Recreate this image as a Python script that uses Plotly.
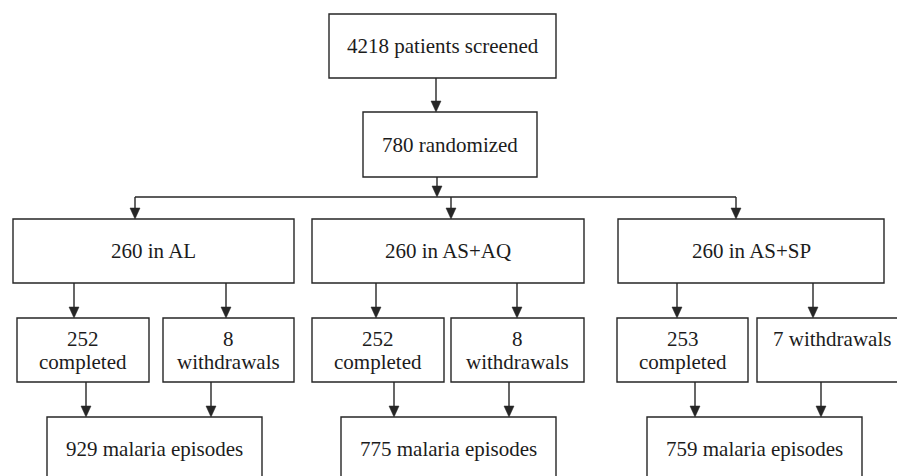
import plotly.graph_objects as go

# ---- data ----
screened = 4218
randomized = 780
arms = ["AL", "AS+AQ", "AS+SP"]
allocated = [260, 260, 260]
completed = [252, 252, 253]
withdrawals = [8, 8, 7]
episodes = [929, 775, 759]

# ---- layout geometry (pixels, y downward) ----
W, H = 897, 476
top_box = (329, 14, 556, 78)
rand_box = (363, 112, 537, 177)
arm_boxes = [(13, 219, 294, 283), (312, 219, 584, 283), (618, 219, 884, 283)]
comp_boxes = [(17, 318, 149, 382), (312, 318, 444, 382), (617, 318, 748, 382)]
wd_boxes = [(163, 318, 294, 382), (451, 318, 584, 382), (757, 318, 905, 382)]
ep_boxes = [(47, 417, 262, 482), (341, 417, 556, 482), (647, 417, 862, 482)]
bus_y = 197
bus_x = [135, 451, 736]
arm_to_comp_x = [74, 376, 677]
arm_to_wd_x = [226, 517, 813]
comp_to_ep_x = [86, 394, 695]
wd_to_ep_x = [211, 509, 821]

LINE = "#262626"
TEXT = "#1c1c1c"
FONT = "Liberation Serif, Times New Roman, serif"
FS = 21

shapes = []
annotations = []


def box(b):
    shapes.append(dict(type="rect", xref="x", yref="y", x0=b[0], y0=b[1], x1=b[2], y1=b[3],
                       line=dict(color=LINE, width=1.4), fillcolor="rgba(0,0,0,0)"))


def line(x0, y0, x1, y1):
    shapes.append(dict(type="line", xref="x", yref="y", x0=x0, y0=y0, x1=x1, y1=y1,
                       line=dict(color=LINE, width=1.4)))


def arrow(x, y0, y1, hw=5, hl=11):
    line(x, y0, x, y1 - hl + 1)
    shapes.append(dict(type="path", xref="x", yref="y",
                       path=f"M {x-hw},{y1-hl} L {x+hw},{y1-hl} L {x},{y1} Z",
                       fillcolor=LINE, line=dict(color=LINE, width=0.5)))


def text(x, y, s):
    annotations.append(dict(x=x, y=y, xref="x", yref="y", text=s, showarrow=False,
                            font=dict(family=FONT, size=FS, color=TEXT),
                            xanchor="center", yanchor="middle"))


def cx(b):
    return (b[0] + b[2]) / 2


def cy(b):
    return (b[1] + b[3]) / 2


box(top_box)
text(cx(top_box), cy(top_box), f"{screened} patients screened")
arrow(436, top_box[3], rand_box[1])
box(rand_box)
text(cx(rand_box), cy(rand_box), f"{randomized} randomized")
arrow(437, rand_box[3], bus_y)
line(bus_x[0], bus_y, bus_x[-1], bus_y)

for i in range(3):
    ab, cb, wb, eb = arm_boxes[i], comp_boxes[i], wd_boxes[i], ep_boxes[i]
    arrow(bus_x[i], bus_y, ab[1])
    box(ab)
    text(cx(ab), cy(ab), f"{allocated[i]} in {arms[i]}")
    arrow(arm_to_comp_x[i], ab[3], cb[1])
    arrow(arm_to_wd_x[i], ab[3], wb[1])
    box(cb)
    text(cx(cb), cy(cb) - 11, f"{completed[i]}")
    text(cx(cb), cy(cb) + 12, "completed")
    box(wb)
    if i < 2:
        text(cx(wb), cy(wb) - 11, f"{withdrawals[i]}")
        text(cx(wb), cy(wb) + 12, "withdrawals")
    else:
        text(832, cy(wb) - 11, f"{withdrawals[i]} withdrawals")
    arrow(comp_to_ep_x[i], cb[3], eb[1])
    arrow(wd_to_ep_x[i], wb[3], eb[1])
    box(eb)
    text(cx(eb), 449, f"{episodes[i]} malaria episodes")

fig = go.Figure()
fig.update_layout(
    width=W, height=H, margin=dict(l=0, r=0, t=0, b=0),
    paper_bgcolor="white", plot_bgcolor="white",
    xaxis=dict(range=[0, W], visible=False, fixedrange=True),
    yaxis=dict(range=[H, 0], visible=False, fixedrange=True),
    shapes=shapes, annotations=annotations, showlegend=False,
)
fig.write_html("out.html", config={"displayModeBar": False},
               post_script="document.body.style.margin='0';document.body.style.overflow='hidden';")
